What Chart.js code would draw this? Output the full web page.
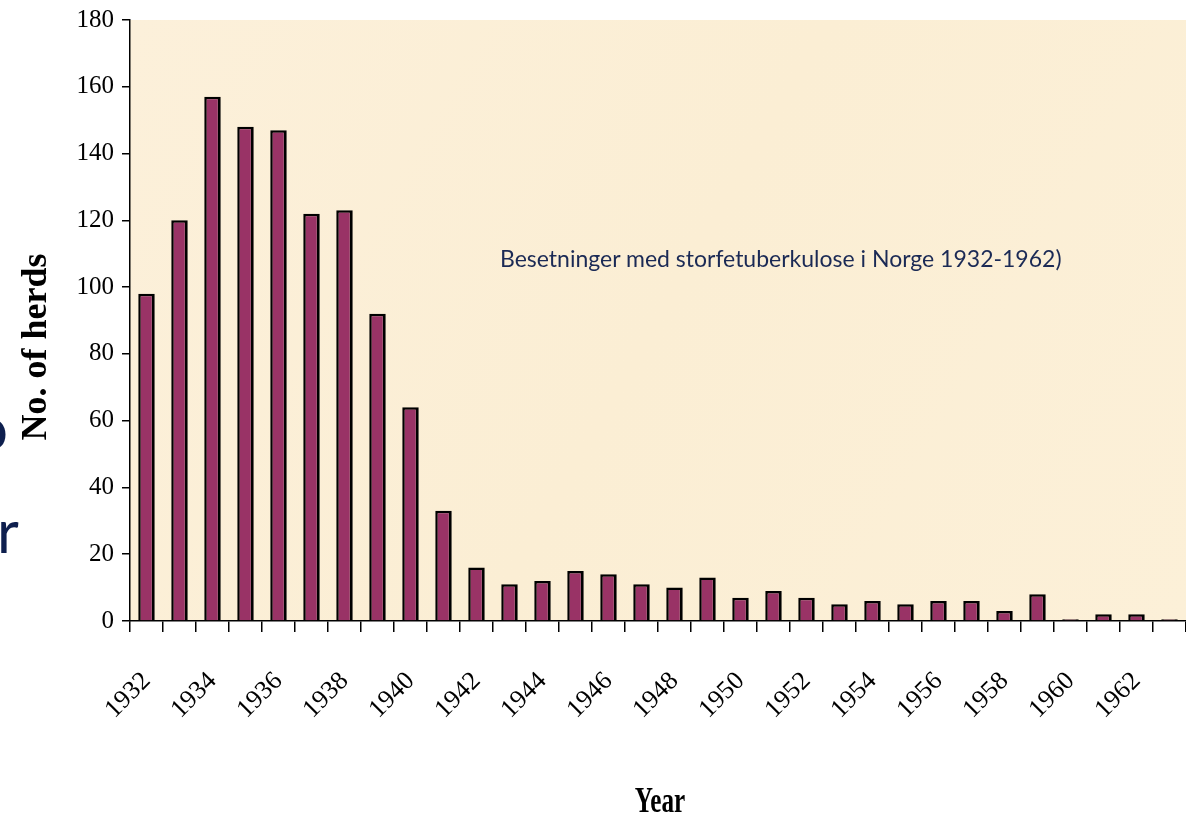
<!DOCTYPE html>
<html>
<head>
<meta charset="utf-8">
<script src="https://cdn.jsdelivr.net/npm/chart.js@4.4.0/dist/chart.umd.min.js"></script>
<style>
  html, body { margin: 0; padding: 0; background: #ffffff; }
  #wrap { position: relative; width: 1186px; height: 816px; overflow: hidden; }
  #c { position: absolute; left: 0; top: 0; }
  .frag { position: absolute; font-family: Lato, "Open Sans", sans-serif; color: #0e1f4e; font-size: 60px; line-height: 1; }
  #note { position: absolute; left: 500px; top: 244px; font-family: Lato, "Open Sans", sans-serif; font-size: 23px; color: #1b2a55; white-space: nowrap; }
</style>
</head>
<body>
<div id="wrap">
  <canvas id="c" width="1186" height="816"></canvas>
  <div class="frag" id="fo" style="left:-26px; top:397px;">o</div>
  <div class="frag" id="fr" style="left:-3px; top:500px;">r</div>
  <div id="note">Besetninger med storfetuberkulose i Norge 1932-1962)</div>
</div>
<script>
const years = ['1932','1933','1934','1935','1936','1937','1938','1939','1940','1941','1942','1943','1944','1945','1946','1947','1948','1949','1950','1951','1952','1953','1954','1955','1956','1957','1958','1959','1960','1961','1962','1963'];
const herds = [98, 120, 157, 148, 147, 122, 123, 92, 64, 33, 16, 11, 12, 15, 14, 11, 10, 13, 7, 9, 7, 5, 6, 5, 6, 6, 3, 8, 0.5, 2, 2, 0.5];
const yTicks = [0, 20, 40, 60, 80, 100, 120, 140, 160, 180];
const yTitle = 'No. of herds';
const xTitle = 'Year';

const bgPlugin = {
  id: 'bg',
  beforeDraw(chart) {
    const a = chart.chartArea, ctx = chart.ctx;
    ctx.save();
    const g = ctx.createLinearGradient(a.left, a.top, a.right, a.bottom);
    g.addColorStop(0, '#fcf0da');
    g.addColorStop(0.5, '#fbeed4');
    g.addColorStop(1, '#fcf0d8');
    ctx.fillStyle = g;
    ctx.fillRect(a.left, a.top, a.right - a.left, a.bottom - a.top);
    ctx.restore();
  },
  afterDraw(chart) {
    const ctx = chart.ctx;
    ctx.save();
    ctx.translate(660, 812);
    ctx.scale(0.7, 1);
    ctx.font = 'bold 36px "Liberation Serif", "Times New Roman", serif';
    ctx.fillStyle = '#000';
    ctx.textAlign = 'center';
    ctx.textBaseline = 'alphabetic';
    ctx.fillText(xTitle, 0, 0);
    ctx.restore();
    ctx.save();
    ctx.translate(46, 347);
    ctx.rotate(-Math.PI / 2);
    ctx.font = 'bold 36px "Liberation Serif", "Times New Roman", serif';
    ctx.fillStyle = '#000';
    ctx.textAlign = 'center';
    ctx.textBaseline = 'alphabetic';
    ctx.fillText(yTitle, 0, 0);
    ctx.restore();
  }
};

new Chart(document.getElementById('c'), {
  type: 'bar',
  data: {
    labels: years,
    datasets: [{
      data: herds,
      backgroundColor: '#993366',
      borderColor: '#000000',
      borderWidth: { top: 2.5, left: 2.5, right: 3, bottom: 0 },
      borderSkipped: 'bottom',
      barPercentage: 0.5,
      categoryPercentage: 1.0
    }]
  },
  options: {
    responsive: false,
    animation: false,
    devicePixelRatio: 1,
    layout: { padding: { top: 20, right: 0, left: 0, bottom: 0 } },
    plugins: { legend: { display: false }, tooltip: { enabled: false } },
    scales: {
      x: {
        offset: true,
        grid: { display: true, drawOnChartArea: false, offset: true, color: '#000', tickLength: 11, lineWidth: 1.5 },
        border: { display: true, color: '#000', width: 1.5 },
        ticks: {
          autoSkip: false, minRotation: 45, maxRotation: 45, padding: 34,
          color: '#000',
          font: { family: '"Liberation Serif", "Times New Roman", serif', size: 26 },
          callback: function(v, i) { return i % 2 === 0 ? years[i] : ''; }
        },
        afterFit(scale) { scale.height = 195; scale.paddingRight = 0; scale.paddingLeft = 0; }
      },
      y: {
        min: 0, max: 180,
        grid: { display: true, drawOnChartArea: false, color: '#000', tickLength: 8, lineWidth: 1.5 },
        border: { display: true, color: '#000', width: 1.5 },
        afterBuildTicks(scale) { scale.ticks = yTicks.map(v => ({ value: v })); },
        ticks: {
          color: '#000', padding: 8,
          font: { family: '"Liberation Serif", "Times New Roman", serif', size: 25 }
        },
        afterFit(scale) { scale.width = 130; scale.paddingTop = 0; scale.paddingBottom = 0; }
      }
    }
  },
  plugins: [bgPlugin]
});
</script>
</body>
</html>
